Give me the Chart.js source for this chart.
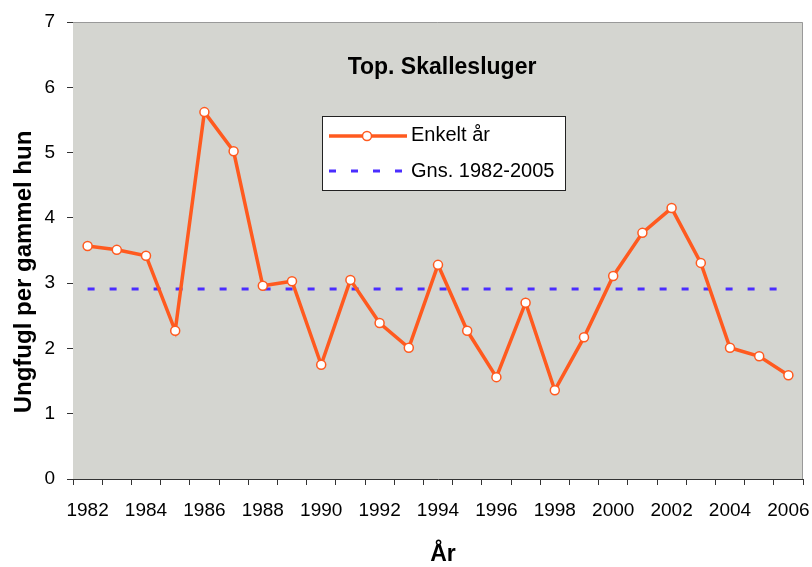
<!DOCTYPE html>
<html>
<head>
<meta charset="utf-8">
<script src="https://cdn.jsdelivr.net/npm/chart.js@4.4.0/dist/chart.umd.min.js"></script>
<style>
  html, body { margin: 0; padding: 0; background: #fff; }
  #wrap { width: 812px; height: 567px; }
</style>
</head>
<body>
<div id="wrap"><canvas id="chart" width="812" height="567"></canvas></div>
<script>
// Data
const years = ['1982','1983','1984','1985','1986','1987','1988','1989','1990','1991','1992','1993',
               '1994','1995','1996','1997','1998','1999','2000','2001','2002','2003','2004','2005','2006'];
const enkeltAar = [3.57, 3.51, 3.42, 2.27, 5.62, 5.02, 2.96, 3.03, 1.75, 3.05, 2.39, 2.01,
                   3.28, 2.27, 1.56, 2.70, 1.36, 2.17, 3.11, 3.77, 4.15, 3.31, 2.01, 1.88, 1.59];
const gennemsnit = [2.91, 2.91, 2.91, 2.91, 2.91, 2.91, 2.91, 2.91, 2.91, 2.91, 2.91, 2.91,
                    2.91, 2.91, 2.91, 2.91, 2.91, 2.91, 2.91, 2.91, 2.91, 2.91, 2.91, 2.91, 2.91];
const yTicks = [0, 1, 2, 3, 4, 5, 6, 7];

const FONT = '"Liberation Sans", Arial, sans-serif';
const ORANGE = '#ff5a1f';
const BLUE = '#4a2dff';

// plot background, frame, titles and legend box
const decor = {
  id: 'decor',
  beforeDatasetsDraw(chart) {
    const { ctx, chartArea: a } = chart;
    ctx.save();
    ctx.fillStyle = '#d4d5d0';
    ctx.fillRect(a.left, a.top, a.right - a.left, a.bottom - a.top);
    ctx.strokeStyle = '#999999';
    ctx.lineWidth = 1;
    ctx.beginPath();
    ctx.moveTo(a.left, a.top + 0.5);
    ctx.lineTo(a.right - 0.5, a.top + 0.5);
    ctx.lineTo(a.right - 0.5, a.bottom);
    ctx.stroke();
    ctx.restore();
  },
  afterDraw(chart) {
    const { ctx } = chart;
    ctx.save();
    ctx.fillStyle = '#000';
    ctx.textAlign = 'center';
    ctx.textBaseline = 'middle';

    // chart title
    ctx.font = 'bold 23px ' + FONT;
    ctx.fillText('Top. Skallesluger', 442, 68);

    // axis titles
    ctx.font = 'bold 23px ' + FONT;
    ctx.fillText('År', 443, 555);
    ctx.save();
    ctx.translate(24, 272);
    ctx.rotate(-Math.PI / 2);
    ctx.font = 'bold 24px ' + FONT;
    ctx.fillText('Ungfugl per gammel hun', 0, 0);
    ctx.restore();

    // legend
    const bx = 322, by = 116, bw = 243, bh = 74;
    ctx.fillStyle = '#fff';
    ctx.fillRect(bx, by, bw, bh);
    ctx.strokeStyle = '#222';
    ctx.lineWidth = 1;
    ctx.strokeRect(bx + 0.5, by + 0.5, bw, bh);

    const ds = chart.data.datasets;
    ctx.strokeStyle = ds[0].borderColor;
    ctx.lineWidth = ds[0].borderWidth;
    ctx.beginPath();
    ctx.moveTo(329, 136);
    ctx.lineTo(407, 136);
    ctx.stroke();
    ctx.beginPath();
    ctx.arc(367, 136, ds[0].pointRadius, 0, Math.PI * 2);
    ctx.fillStyle = '#fff';
    ctx.fill();
    ctx.lineWidth = ds[0].pointBorderWidth;
    ctx.stroke();

    ctx.strokeStyle = ds[1].borderColor;
    ctx.lineWidth = ds[1].borderWidth;
    ctx.setLineDash(ds[1].borderDash);
    ctx.beginPath();
    ctx.moveTo(329, 171);
    ctx.lineTo(407, 171);
    ctx.stroke();
    ctx.setLineDash([]);

    ctx.fillStyle = '#000';
    ctx.font = '20px ' + FONT;
    ctx.textAlign = 'left';
    ctx.fillText(ds[0].label, 411, 135);
    ctx.fillText(ds[1].label, 411, 171);
    ctx.restore();
  }
};

new Chart(document.getElementById('chart'), {
  type: 'line',
  data: {
    labels: years,
    datasets: [
      {
        label: 'Enkelt år',
        data: enkeltAar,
        borderColor: ORANGE,
        borderWidth: 3.5,
        pointRadius: 4.5,
        pointBorderWidth: 1.5,
        pointBackgroundColor: '#fff',
        pointBorderColor: ORANGE,
        tension: 0,
        order: 1
      },
      {
        label: 'Gns. 1982-2005',
        data: gennemsnit,
        borderColor: BLUE,
        borderWidth: 3,
        borderDash: [7, 15],
        pointRadius: 0,
        tension: 0,
        order: 2
      }
    ]
  },
  options: {
    responsive: false,
    animation: false,
    layout: { padding: { left: 0, right: 9, top: 22, bottom: 0 } },
    plugins: { legend: { display: false }, tooltip: { enabled: false }, title: { display: false } },
    scales: {
      x: {
        offset: true,
        grid: { display: true, offset: true, drawOnChartArea: false, color: '#333', tickLength: 6 },
        border: { color: '#333', width: 1 },
        ticks: {
          autoSkip: false,
          maxRotation: 0,
          padding: 14,
          color: '#000',
          font: { family: FONT, size: 19 },
          callback: (v, i) => (i % 2 === 0 ? years[i] : '')
        },
        afterFit: s => { s.height = 88; s.paddingLeft = 0; s.paddingRight = 0; }
      },
      y: {
        min: 0,
        max: 7,
        afterBuildTicks: s => { s.ticks = yTicks.map(v => ({ value: v })); },
        grid: { display: true, drawOnChartArea: false, color: '#333', tickLength: 6 },
        border: { color: '#333', width: 1 },
        ticks: { padding: 12, color: '#000', font: { family: FONT, size: 19 } },
        afterFit: s => { s.width = 73; s.paddingTop = 0; s.paddingBottom = 0; }
      }
    }
  },
  plugins: [decor]
});
</script>
</body>
</html>
